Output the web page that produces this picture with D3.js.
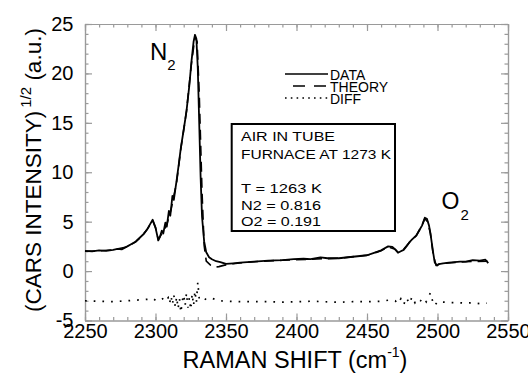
<!DOCTYPE html>
<html><head><meta charset="utf-8">
<script src="https://cdn.jsdelivr.net/npm/d3@7"></script>
<style>
body{margin:0;background:#fff;}
text{font-family:"Liberation Sans",Arial,sans-serif;}
</style></head><body>
<svg id="c" width="528" height="373"></svg>
<script>
const xTickValues=[2250,2300,2350,2400,2450,2500,2550];
const yTickValues=[-5,0,5,10,15,20,25];

const dataShift=[2250,2255,2260,2265,2270,2273,2276,2280,2283,2286,2289,2292,2294,2296,2298,2300,2302,2303,2304.5,2305.5,2307,2308,2309.5,2310.5,2312,2313,2315,2316.5,2318,2320,2322,2324,2325.5,2327,2328,2329,2330,2331,2332,2333,2334.5,2336,2338,2340,2343,2346,2350,2355,2360,2370,2380,2390,2398,2405,2410,2417,2422,2430,2440,2450,2456,2460,2465,2468,2470,2472,2474,2476,2478,2480,2482,2485,2487,2489,2491,2492.5,2494,2495,2496,2497,2498,2499.5,2501,2504,2508,2512,2516,2520,2525,2530,2534,2536];
const dataIntensity=[2.05,2.0,2.1,2.05,2.15,2.25,2.2,2.5,2.75,3.0,3.4,3.8,4.2,4.7,5.2,4.4,3.1,3.4,4.1,3.8,4.9,4.5,6.1,5.6,7.6,7.2,9.2,10.8,12.5,14.3,16.2,18.8,21.2,23.2,23.9,23.5,20.5,15,9.5,5.5,3.0,1.9,1.4,1.2,1.0,0.9,0.72,0.78,0.85,0.95,1.05,1.1,1.2,1.25,1.2,1.38,1.3,1.3,1.45,1.6,1.9,2.1,2.5,2.45,2.2,1.85,2.0,2.15,2.5,2.9,3.2,3.6,4.1,4.6,5.4,5.3,4.6,3.8,2.8,1.8,0.9,0.55,0.7,0.78,0.85,0.9,0.95,0.95,1.1,1.05,1.15,0.8];

const theoryShift=[2250,2260,2270,2280,2286,2290,2294,2298,2300,2302,2305,2308,2311,2315,2318,2322,2325.5,2328,2329.5,2331,2333,2334.5,2336,2339,2342,2345,2349,2355,2370,2390,2410,2430,2450,2460,2465,2470,2472,2476,2480,2485,2489,2491,2493,2495,2497,2499,2502,2510,2520,2536];
const theoryIntensity=[2.0,2.05,2.15,2.45,2.95,3.5,4.2,5.1,4.4,3.2,3.9,4.7,6.2,9.0,12.4,16.2,21.0,23.7,23.2,18,8,2.6,1.0,0.6,0.38,0.45,0.6,0.75,0.95,1.1,1.2,1.3,1.6,2.05,2.45,2.2,1.9,2.2,2.9,3.6,4.6,5.3,5.0,3.8,1.6,0.6,0.75,0.85,0.95,1.0];

const diffShift=[2250,2260,2270,2280,2290,2295,2298,2300,2303,2305,2307,2309,2310,2311,2312,2313,2314,2315,2316,2317,2318,2319,2320,2321,2322,2323,2324,2325,2326,2327,2328,2329,2330,2331,2333,2336,2340,2345,2350,2360,2370,2380,2390,2400,2410,2420,2430,2440,2450,2460,2465,2470,2472,2474,2476,2478,2480,2482,2484,2486,2488,2490,2492,2494,2495,2497,2498,2500,2505,2510,2515,2520,2525,2530,2535];
const diffIntensity=[-3.0,-3.05,-3.1,-3.0,-2.9,-2.85,-2.75,-2.95,-3.0,-2.8,-3.1,-2.7,-3.3,-2.5,-3.4,-2.4,-3.6,-2.6,-3.8,-2.8,-4.2,-3.0,-2.4,-3.5,-2.2,-3.7,-2.7,-3.9,-2.3,-3.5,-2.0,-3.2,-1.1,-2.8,-2.6,-2.9,-2.75,-3.0,-3.05,-3.1,-3.1,-3.1,-3.15,-3.1,-3.05,-3.1,-3.15,-3.1,-3.1,-3.05,-2.95,-3.0,-3.3,-2.8,-3.4,-2.7,-3.3,-2.6,-3.2,-2.8,-3.0,-2.7,-3.1,-2.5,-2.2,-3.3,-3.5,-3.1,-3.15,-3.2,-3.2,-3.25,-3.2,-3.3,-3.25];

const legendLabels=["DATA","THEORY","DIFF"];
const boxLines=["AIR IN TUBE","FURNACE AT 1273 K","","T = 1263 K","N2 = 0.816","O2 = 0.191"];

const svg=d3.select('#c');
const x=d3.scaleLinear().domain([2250,2550]).range([85,508]);
const y=d3.scaleLinear().domain([-5,25]).range([320.5,24]);
const axisColor='#9a9a9a';
const minorX=d3.range(2250,2551,10), minorY=d3.range(-5,25.01,1);

function styleAxis(g){
  g.select('.domain').attr('stroke',axisColor).attr('stroke-width',1.2);
  g.selectAll('.tick line').attr('stroke',axisColor).attr('stroke-width',1.2);
  g.attr('font-family','"Liberation Sans",Arial,sans-serif').attr('font-size',20);
  g.selectAll('.tick text').attr('fill','#000');
}
const fmt=d=>String(d);
// bottom
svg.append('g').attr('transform',`translate(0,${y(-5)})`).call(d3.axisBottom(x).tickValues(minorX).tickSizeInner(-3.5).tickSizeOuter(0).tickFormat('')).call(styleAxis);
svg.append('g').attr('transform',`translate(0,${y(-5)})`).call(d3.axisBottom(x).tickValues(xTickValues).tickSizeInner(-7).tickSizeOuter(0).tickPadding(3).tickFormat(fmt)).call(styleAxis);
// top
svg.append('g').attr('transform',`translate(0,${y(25)})`).call(d3.axisTop(x).tickValues(minorX).tickSizeInner(-3.5).tickSizeOuter(0).tickFormat('')).call(styleAxis);
svg.append('g').attr('transform',`translate(0,${y(25)})`).call(d3.axisTop(x).tickValues(xTickValues).tickSizeInner(-7).tickSizeOuter(0).tickFormat('')).call(styleAxis);
// left
svg.append('g').attr('transform',`translate(${x(2250)},0)`).call(d3.axisLeft(y).tickValues(minorY).tickSizeInner(-3.5).tickSizeOuter(0).tickFormat('')).call(styleAxis);
svg.append('g').attr('transform',`translate(${x(2250)},0)`).call(d3.axisLeft(y).tickValues(yTickValues).tickSizeInner(-7).tickSizeOuter(0).tickPadding(11.5).tickFormat(fmt)).call(styleAxis);
// right
svg.append('g').attr('transform',`translate(${x(2550)},0)`).call(d3.axisRight(y).tickValues(minorY).tickSizeInner(-3.5).tickSizeOuter(0).tickFormat('')).call(styleAxis);
svg.append('g').attr('transform',`translate(${x(2550)},0)`).call(d3.axisRight(y).tickValues(yTickValues).tickSizeInner(-7).tickSizeOuter(0).tickFormat('')).call(styleAxis);

// series
const line=d3.line().x(d=>x(d[0])).y(d=>y(d[1]));
const zip=(a,b)=>a.map((v,i)=>[v,b[i]]);
svg.append('path').attr('d',line(zip(theoryShift,theoryIntensity))).attr('fill','none').attr('stroke','#000').attr('stroke-width',1.6).attr('stroke-dasharray','10,6');
svg.append('path').attr('d',line(zip(dataShift,dataIntensity))).attr('fill','none').attr('stroke','#000').attr('stroke-width',1.8).attr('stroke-linejoin','round');
svg.append('path').attr('d',line(zip(diffShift,diffIntensity))).attr('fill','none').attr('stroke','#000').attr('stroke-width',1.7).attr('stroke-dasharray','1.7,7');

// legend
const lg=svg.append('g');
const lgY=[74,86,98], lgDash=[null,'12,9','1.6,4.2'], lgX0=[285,293,285];
legendLabels.forEach((t,i)=>{
  lg.append('line').attr('x1',lgX0[i]).attr('x2',328).attr('y1',lgY[i]).attr('y2',lgY[i]).attr('stroke','#000').attr('stroke-width',1.5).attr('stroke-dasharray',lgDash[i]);
  lg.append('text').attr('x',330).attr('y',lgY[i]+5.5).attr('font-size',14).text(t);
});

// box
svg.append('rect').attr('x',231.7).attr('y',124).attr('width',163.3).attr('height',107).attr('fill','#fff').attr('stroke','#000').attr('stroke-width',2);
const boxBase=[141,159,0,193,209.5,226], boxW=[94,150,0,81,80,80];
boxLines.forEach((t,i)=>{ if(!t) return;
  svg.append('text').attr('x',241).attr('y',boxBase[i]).attr('font-size',13).attr('textLength',boxW[i]).attr('lengthAdjust','spacingAndGlyphs').text(t);
});

// peak labels
const n2=svg.append('text').attr('x',150).attr('y',60).attr('font-size',24);
n2.append('tspan').text('N');
n2.append('tspan').attr('font-size',15).attr('dy',10).text('2');
const o2=svg.append('text').attr('x',441.5).attr('y',208.5).attr('font-size',23);
o2.append('tspan').text('O');
o2.append('tspan').attr('font-size',15).attr('dy',11).attr('dx',1).text('2');

// axis titles
const xt=svg.append('text').attr('x',295).attr('y',367.5).attr('text-anchor','middle').attr('font-size',23.5);
xt.append('tspan').text('RAMAN SHIFT (cm');
xt.append('tspan').attr('font-size',14).attr('dy',-11).text('-1');
xt.append('tspan').attr('dy',11).text(')');

const yt=svg.append('text').attr('transform','rotate(-90)').attr('x',-312).attr('y',41).attr('font-size',22.5);
yt.append('tspan').text('(CARS INTENSITY)');
yt.append('tspan').attr('font-size',15).attr('dy',-10).attr('dx',3).text('1/2');
yt.append('tspan').attr('dy',10).text(' (a.u.)');
</script></body></html>
